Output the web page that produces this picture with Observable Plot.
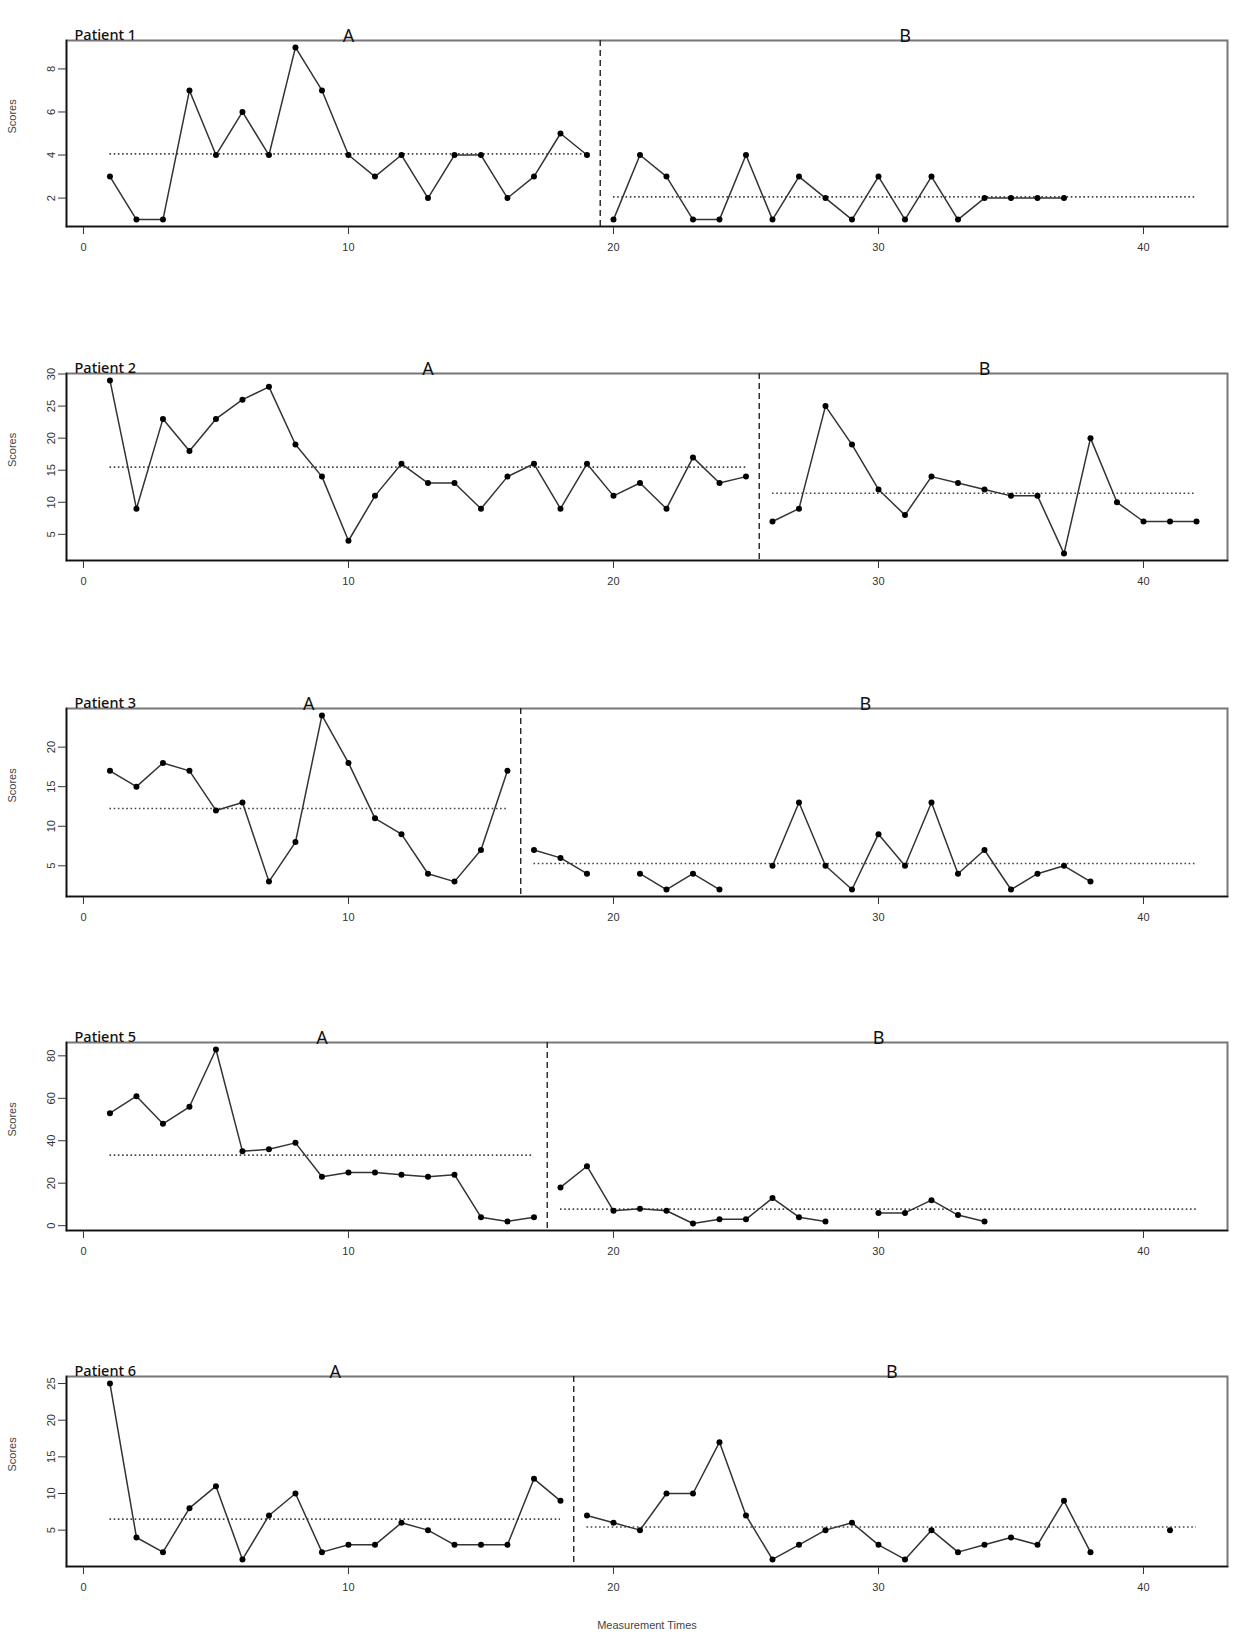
<!DOCTYPE html>
<html><head><meta charset="utf-8">
<script src="https://cdn.jsdelivr.net/npm/d3@7"></script>
<script src="https://cdn.jsdelivr.net/npm/@observablehq/plot@0.6"></script>
<style>
body{margin:0;background:#fff;}
#wrap{position:relative;width:1249px;height:1637px;overflow:hidden;background:#fff;}
.panel{position:absolute;left:0;}
</style></head><body><div id="wrap"></div>
<script>
// ---- data ----
const patientNames = ["Patient 1", "Patient 2", "Patient 3", "Patient 5", "Patient 6"];
// scores by measurement time (1, 2, 3, ...); null = missing measurement
const scoresP1 = [3,1,1,7,4,6,4,9,7,4,3,4,2,4,4,2,3,5,4, 1,4,3,1,1,4,1,3,2,1,3,1,3,1,2,2,2,2];
const scoresP2 = [29,9,23,18,23,26,28,19,14,4,11,16,13,13,9,14,16,9,16,11,13,9,17,13,14, 7,9,25,19,12,8,14,13,12,11,11,2,20,10,7,7,7];
const scoresP3 = [17,15,18,17,12,13,3,8,24,18,11,9,4,3,7,17, 7,6,4,null,4,2,4,2,null,5,13,5,2,9,5,13,4,7,2,4,5,3];
const scoresP5 = [53,61,48,56,83,35,36,39,23,25,25,24,23,24,4,2,4, 18,28,7,8,7,1,3,3,13,4,2,null,6,6,12,5,2];
const scoresP6 = [25,4,2,8,11,1,7,10,2,3,3,6,5,3,3,3,12,9, 7,6,5,10,10,17,7,1,3,5,6,3,1,5,2,3,4,3,9,2,null,null,5];
const phaseALength = [19, 25, 16, 17, 18];      // last measurement of phase A
const lastTime = 42;                             // end of the observation window
const phaseNames = ["A", "B"];
const xTicks = [0, 10, 20, 30, 40];
const yTicksP1 = [2, 4, 6, 8];
const yTicksP2 = [5, 10, 15, 20, 25, 30];
const yTicksP3 = [5, 10, 15, 20];
const yTicksP5 = [0, 20, 40, 60, 80];
const yTicksP6 = [5, 10, 15, 20, 25];
const xAxisTitle = "Measurement Times";
const yAxisTitle = "Scores";

// ---- layout (not data) ----
const allScores = [scoresP1, scoresP2, scoresP3, scoresP5, scoresP6];
const allTicks = [yTicksP1, yTicksP2, yTicksP3, yTicksP5, yTicksP6];
const boxTop = [40, 373, 708, 1042, 1376];
const boxH = [186, 187, 188, 188, 190];
const W = 1249, ML = 66, MR = 22, MT = 42;
const labelFont = "'Noto Sans', 'Open Sans', sans-serif";
const axisFont = "'Liberation Sans', Arial, sans-serif";

const wrap = document.getElementById("wrap");

allScores.forEach((scores, k) => {
  const lenA = phaseALength[k];
  const rows = scores.map((v, i) => ({t: i + 1, s: v == null ? NaN : v, phase: (i + 1) <= lenA ? "A" : "B"}));
  const valid = rows.filter(d => !isNaN(d.s));
  const meanA = d3.mean(valid.filter(d => d.phase === "A"), d => d.s);
  const meanB = d3.mean(valid.filter(d => d.phase === "B"), d => d.s);
  const means = [
    {m: meanA, x1: 1, x2: lenA},
    {m: meanB, x1: lenA + 1, x2: lastTime}
  ];
  const change = lenA + 0.5;
  const labels = [
    {x: (1 + lenA) / 2, text: phaseNames[0]},
    {x: (lenA + 1 + lastTime) / 2, text: phaseNames[1]}
  ];
  // R-style 4% extension of the data range
  const ext = d3.extent(valid, d => d.s);
  const pad = (ext[1] - ext[0]) * 0.04;
  const last = k === allScores.length - 1;
  const MB = last ? 71 : 45;

  const marks = [
    Plot.frame({stroke: "#777", strokeWidth: 2}),
    Plot.frame({anchor: "left", stroke: "#111", strokeWidth: 1.6}),
    Plot.frame({anchor: "bottom", stroke: "#111", strokeWidth: 1.6}),
    Plot.ruleY(means, {y: "m", x1: "x1", x2: "x2", stroke: "#444", strokeWidth: 1.6, strokeDasharray: "1.6,2.6"}),
    Plot.ruleX([change], {stroke: "#222", strokeWidth: 1.4, strokeDasharray: "6,4"}),
    Plot.line(rows, {x: "t", y: "s", z: "phase", stroke: "#333", strokeWidth: 1.5}),
    Plot.dot(valid, {x: "t", y: "s", r: 3, fill: "#000", stroke: "none"}),
    Plot.text(labels, {x: "x", text: "text", frameAnchor: "top", dy: -11, fontSize: 18, fontFamily: labelFont, fill: "#111"}),
    Plot.text([patientNames[k]], {frameAnchor: "top-left", text: d => d, dx: 8, dy: -11, textAnchor: "start", fontSize: 14.5, fontWeight: 500, fontFamily: labelFont, fill: "#111"}),
    Plot.text([yAxisTitle], {frameAnchor: "left", text: d => d, rotate: -90, dx: -54, fontSize: 11, fill: "#444"})
  ];
  if (last) {
    marks.push(Plot.text([xAxisTitle], {frameAnchor: "bottom", text: d => d, dy: 62, fontSize: 11, fill: "#444"}));
  }

  const chart = Plot.plot({
    width: W,
    height: MT + boxH[k] + MB,
    marginTop: MT, marginBottom: MB, marginLeft: ML, marginRight: MR,
    style: {fontFamily: axisFont, fontSize: "11px", color: "#333", background: "transparent"},
    x: {domain: [-0.64, 43.17], ticks: xTicks, tickSize: 8, tickPadding: 9, label: null},
    y: {domain: [ext[0] - pad, ext[1] + pad], ticks: allTicks[k], tickSize: 8, tickPadding: 4,
        tickRotate: -90, label: null},
    marks
  });
  chart.classList.add("panel");
  chart.style.top = (boxTop[k] - MT) + "px";
  wrap.appendChild(chart);
});
</script>
</body></html>
